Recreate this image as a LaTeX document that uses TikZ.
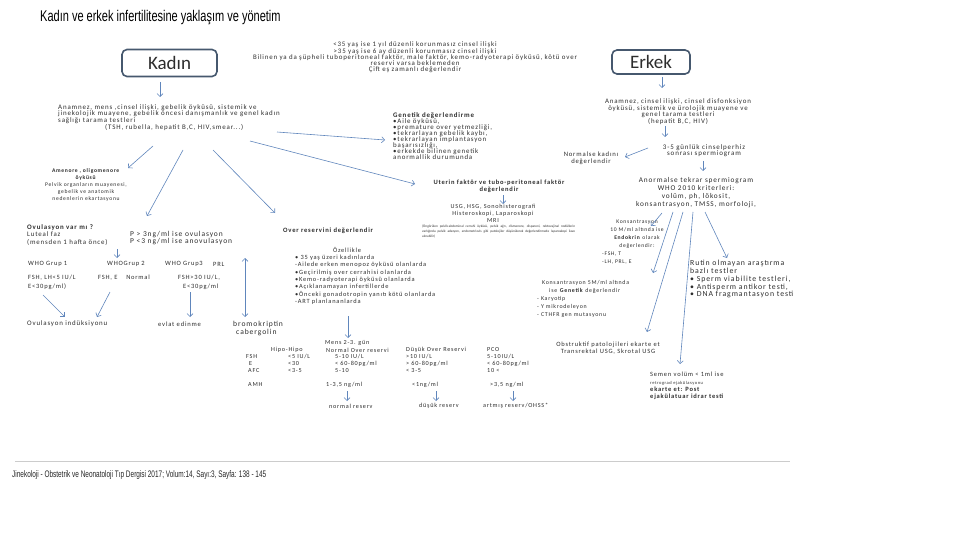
\documentclass[tikz,border=0pt]{standalone}
\usepackage{fontspec}
\setmainfont{Carlito}[LetterSpace=12]
\newfontfamily\boxfont{Carlito}
\newfontfamily\narrowfont{Liberation Sans}[FakeStretch=0.71]
\newfontfamily\footfont{Liberation Sans}[FakeStretch=0.68]
\usetikzlibrary{arrows.meta}

\definecolor{arrowblue}{RGB}{96,134,188}
\definecolor{boxline}{RGB}{70,88,110}
\definecolor{inkgray}{RGB}{45,45,45}

\newcommand{\fsz}[2]{\fontsize{#1}{#2}\selectfont}

\tikzset{
  txt/.style={inner sep=0pt, text=inkgray, font=\fsz{6.8}{7}},
  arr/.style={->, draw=arrowblue, line width=0.6pt},
  sexbox/.style={draw=boxline, line width=1.6pt, rounded corners=5pt, inner sep=0pt,
    text=inkgray, font=\boxfont\fsz{19}{19}},
}

\begin{document}
\begin{tikzpicture}[x=1pt, y=-1pt, >={Straight Barb[length=3pt,width=6pt]}]
    \useasboundingbox (0,0) rectangle (960,540);

    % Title
    \node[anchor=west, inner sep=0pt, font=\narrowfont\fsz{15.5}{15.5}] (title) at (40,18)
        {Kadın ve erkek infertilitesine yaklaşım ve yönetim};

    % Start boxes
    \node[sexbox, minimum width=95pt, minimum height=27pt] (kadin) at (169.5,63) {Kadın};
    \node[sexbox, minimum width=78pt, minimum height=24pt] (erkek) at (651,62) {Erkek};

    % When to evaluate
    \node[txt, align=center, anchor=north, font=\fsz{6.9}{6.1}] (when) at (415,42)
        {<35 yaş ise 1 yıl düzenli korunmasız cinsel ilişki\\
         >35 yaş ise 6 ay düzenli korunmasız cinsel ilişki\\
         Bilinen ya da şüpheli tuboperitoneal faktör, male faktör, kemo-radyoterapi öyküsü, kötü over\\
         reservi varsa beklemeden\\
         Çift eş zamanlı değerlendir};

    % ---------------- Kadın side ----------------
    \node[txt, align=left, anchor=north west, font=\fsz{6.95}{6.8}] (anamK) at (58,104)
        {Anamnez, mens ,cinsel ilişki, gebelik öyküsü, sistemik ve\\
         jinekolojik muayene, gebelik öncesi danışmanlık ve genel  kadın\\
         sağlığı tarama testleri\\
         \hspace*{47pt}(TSH, rubella, hepatit B,C, HIV,smear...)};

    \node[txt, align=center, anchor=north, font=\fsz{5.6}{7}] (amenore) at (86,168)
        {\textbf{Amenore , oligomenore}\\ \textbf{öyküsü}\\
         Pelvik organların muayenesi,\\ gebelik ve anatomik\\ nedenlerin ekartasyonu};

    \node[txt, align=left, anchor=north west, font=\fsz{6.9}{6.1}] (genetikK) at (393,112)
        {\textbf{Genetik değerlendirme}\\ •Aile öyküsü,\\ •premature over yetmezliği,\\
         •tekrarlayan gebelik kaybı,\\ •tekrarlayan implantasyon\\ başarısızlığı,\\
         •erkekde bilinen genetik\\ anormallik durumunda};

    \node[txt, align=center, anchor=north, font=\bfseries\fsz{6.5}{6.6}] (uterin) at (499,180)
        {Uterin faktör ve tubo-peritoneal faktör\\ değerlendir};
    \node[txt, align=center, anchor=north, font=\fsz{6.2}{7}] (usg) at (493,204)
        {USG, HSG, Sonohisterografi\\ Histeroskopi, Laparoskopi\\ MRI};
    \node[inner sep=0pt, text=inkgray, anchor=north west, font=\boxfont\fsz{3.4}{4.6}] (usgnote) at (422,225)
        {\parbox{153pt}{\spaceskip=0.3em plus 1em (Öngörülen pelvik-abdominal cerrahi öyküsü, pelvik ağrı, dismenore, dispareni, rektovajinal nodüllerin varlığında pelvik adezyon, endometriozis gibi patolojiler düşünülerek değerlendirmede laparoskopi ilave alınabilir)}};

    % Ovulation
    \node[txt, align=left, anchor=north west, font=\fsz{6.9}{7.5}] (ovul) at (27,224)
        {\textbf{Ovulasyon var mı ?}\\ Luteal faz\\ (mensden 1 hafta önce)};
    \node[txt, align=left, anchor=north west, font=\fsz{7.5}{7}] (prog) at (130,231)
        {P > 3ng/ml ise ovulasyon\\ P <3 ng/ml ise anovulasyon};

    \node[txt, anchor=west, font=\fsz{6.5}{7}] (who1) at (28,264) {WHO Grup 1};
    \node[txt, anchor=west, font=\fsz{6.5}{7}] (who2) at (107,264) {WHOGrup 2};
    \node[txt, anchor=west, font=\fsz{6.5}{7}] (who3) at (165,264) {WHO Grup3};
    \node[txt, anchor=west, font=\fsz{6.5}{7}] (prl) at (213,264) {PRL};

    \node[txt, align=left, anchor=north west, font=\fsz{6.5}{9}] (fsh1) at (28,275) {FSH, LH<5 IU/L\\ E<30pg/ml)};
    \node[txt, anchor=west, font=\fsz{6.5}{7}] (fsh2) at (98,278) {FSH, E \quad Normal};
    \node[txt, align=left, anchor=north west, font=\fsz{6.5}{9}] (fsh3) at (178,275) {FSH>30 IU/L,\\ \hspace*{5pt}E<30pg/ml};

    \node[txt, anchor=west, font=\fsz{6.9}{7}] (ovind) at (27,324) {Ovulasyon indüksiyonu};
    \node[txt, anchor=west, font=\fsz{6.6}{7}] (evlat) at (158,324) {evlat edinme};
    \node[txt, align=left, anchor=north west, font=\fsz{7.6}{8}] (bromo) at (233,321) {bromokriptin\\ \hspace*{3pt}cabergolin};

    % Ovarian reserve
    \node[txt, anchor=west, font=\bfseries\fsz{6.6}{7}] (overres) at (283,231) {Over  reservini değerlendir};
    \node[txt, anchor=center, font=\fsz{6.4}{7}] (ozellikle) at (347,250) {Özellikle};
    \node[txt, align=left, anchor=north west, font=\fsz{6.4}{7.3}] (overlist) at (295,255)
        {• 35 yaş üzeri kadınlarda\\ -Ailede erken menopoz öyküsü olanlarda\\
         •Geçirilmiş over cerrahisi olanlarda\\ •Kemo-radyoterapi öyküsü olanlarda\\
         •Açıklanamayan infertillerde\\ •Önceki gonadotropin yanıtı kötü olanlarda\\
         -ART planlananlarda};

    % Reserve table
    \tikzset{cell/.style={txt, anchor=west, font=\fsz{6.2}{7}}}
    \node[cell] (mens) at (325,343) {Mens  2-3. gün};
    \node[cell] (h1) at (271,350) {Hipo-Hipo};
    \node[cell] (h2) at (326,350) {Normal Over reservi};
    \node[cell] (h3) at (406,350) {Düşük Over  Reservi};
    \node[cell] (h4) at (487,350) {PCO};

    \node[cell] (rfsh) at (246,357) {FSH};
    \node[cell] (re) at (249,364) {E};
    \node[cell] (rafc) at (248,371) {AFC};
    \node[cell] (ramh) at (248,385) {AMH};

    \node[cell, align=left, anchor=north west] (c1) at (288,354) {<5 IU/L\\ <30\\ <3-5};
    \node[cell, align=left, anchor=north west] (c2) at (335,354) {5-10 IU/L\\ < 60-80pg/ml\\ 5-10};
    \node[cell, align=left, anchor=north west] (c3) at (406,354) {>10 IU/L\\ > 60-80pg/ml\\ < 3-5};
    \node[cell, align=left, anchor=north west] (c4) at (487,354) {5-10IU/L\\ < 60-80pg/ml\\ 10 <};

    \node[cell] (amh2) at (326,385) {1-3,5 ng/ml};
    \node[cell] (amh3) at (412,385) {<1ng/ml};
    \node[cell] (amh4) at (490,385) {>3,5 ng/ml};

    \node[cell] (res2) at (329,406) {normal  reserv};
    \node[cell] (res3) at (419,406) {düşük reserv};
    \node[cell] (res4) at (483,406) {artmış reserv/OHSS*};

    % ---------------- Erkek side ----------------
    \node[txt, align=center, anchor=north, font=\fsz{6.9}{6.4}] (anamE) at (678,99)
        {Anamnez, cinsel ilişki,  cinsel disfonksiyon\\ öyküsü, sistemik ve ürolojik muayene ve\\
         genel tarama testleri\\ (hepatit B,C, HIV)};
    \node[txt, align=center, anchor=north, font=\fsz{7}{6.5}] (perhiz) at (704,144) {3-5 günlük cinselperhiz\\ sonrası spermiogram};
    \node[txt, align=center, anchor=north, font=\fsz{6.7}{6.5}] (normalse) at (591,152) {Normalse kadını\\ değerlendir};
    \node[txt, align=center, anchor=north, font=\fsz{7.3}{8}] (anormal) at (696,177)
        {Anormalse  tekrar spermiogram\\ WHO 2010 kriterleri:\\ volüm, ph, lökosit,\\ konsantrasyon,  TMSS,  morfoloji,};

    \node[txt, align=center, anchor=north, font=\fsz{5.6}{8}] (endokrin) at (637,220)
        {Konsantrasyon\\ 10 M/ml  altında ise\\ \textbf{Endokrin} olarak\\ değerlendir:};
    \node[txt, align=left, anchor=north west, font=\fsz{5.6}{8}] (endolist) at (602,252) {-FSH, T\\ -LH, PRL, E};

    \node[txt, align=left, anchor=north west, font=\fsz{5.9}{8}] (genetikE) at (537,280)
        {\hspace*{5pt}Konsantrasyon 5M/ml altında\\ \hspace*{12pt}ise \textbf{Genetik} değerlendir\\
         - Karyotip\\ - Y mikrodeleyon\\ - CTHFR gen mutasyonu};

    \node[txt, align=center, anchor=north, font=\fsz{6.5}{7}] (obstr) at (608,342)
        {Obstruktif patolojileri ekarte et\\ Transrektal USG, Skrotal USG};

    \node[txt, align=left, anchor=north west, font=\fsz{6.5}{7.4}] (semen) at (650,372)
        {Semen volüm < 1ml ise\\ {\fsz{4.5}{5}retrograd ejakülasyonu}\\
         \textbf{ekarte et:  Post}\\ \textbf{ejakülatuar idrar testi}};

    \node[txt, align=left, anchor=north west, font=\fsz{7.8}{7.8}] (rutin) at (690,260)
        {Rutin olmayan araştırma\\ bazlı testler\\ • Sperm viabilite testleri,\\
         • Antisperm antikor testi,\\ • DNA fragmantasyon testi};

    % Arrow end points
    \coordinate (kA) at (160,82);   \coordinate (kB) at (160,97);
    \coordinate (k1) at (153,146);  \coordinate (k1e) at (128,168);
    \coordinate (k2) at (183,150);  \coordinate (k2e) at (147,216);
    \coordinate (k3) at (213,150);  \coordinate (k3e) at (275,213);
    \coordinate (k4) at (277,132);  \coordinate (k4e) at (385,140);
    \coordinate (k5) at (250,141);  \coordinate (k5e) at (415,184);
    \coordinate (u1) at (503,195);  \coordinate (u1e) at (503,204);
    \coordinate (o1) at (117,249);  \coordinate (o1e) at (117,258);
    \coordinate (w1) at (43,295);   \coordinate (w1e) at (65,317);
    \coordinate (w2) at (110,292);  \coordinate (w2e) at (97,317);
    \coordinate (w3) at (190,292);  \coordinate (w3e) at (190,317);
    \coordinate (p1) at (245,317);  \coordinate (p1e) at (245,258);
    \coordinate (r1) at (348,316);  \coordinate (r1e) at (348,338);
    \coordinate (m2) at (347,391);  \coordinate (m2e) at (347,401);
    \coordinate (m3) at (436,391);  \coordinate (m3e) at (436,401);
    \coordinate (m4) at (513,391);  \coordinate (m4e) at (513,401);

    \coordinate (eA) at (662,77);   \coordinate (eB) at (662,88);
    \coordinate (e1) at (665,126);  \coordinate (e1e) at (665,137);
    \coordinate (e2) at (648,148);  \coordinate (e2e) at (625,157);
    \coordinate (e3) at (703,161);  \coordinate (e3e) at (703,171);
    \coordinate (s1) at (662,213);  \coordinate (s1e) at (651,226);
    \coordinate (s2) at (673,212);  \coordinate (s2e) at (653,273);
    \coordinate (s3) at (683,212);  \coordinate (s3e) at (647,332);
    \coordinate (s4) at (693,212);  \coordinate (s4e) at (680,364);
    \coordinate (s5) at (705,212);  \coordinate (s5e) at (727,258);

    % Kadın arrows
    \draw[arr] (kA) -- (kB);
    \draw[arr] (k1) -- (k1e);
    \draw[arr] (k2) -- (k2e);
    \draw[arr] (k3) -- (k3e);
    \draw[arr] (k4) -- (k4e);
    \draw[arr] (k5) -- (k5e);
    \draw[arr] (u1) -- (u1e);
    \draw[arr] (o1) -- (o1e);
    \draw[arr] (w1) -- (w1e);
    \draw[arr] (w2) -- (w2e);
    \draw[arr] (w3) -- (w3e);
    \draw[arr, <->] (p1) -- (p1e);
    \draw[arr] (r1) -- (r1e);
    \draw[arr] (m2) -- (m2e);
    \draw[arr] (m3) -- (m3e);
    \draw[arr] (m4) -- (m4e);

    % Erkek arrows
    \draw[arr] (eA) -- (eB);
    \draw[arr] (e1) -- (e1e);
    \draw[arr] (e2) -- (e2e);
    \draw[arr] (e3) -- (e3e);
    \draw[arr] (s1) -- (s1e);
    \draw[arr] (s2) -- (s2e);
    \draw[arr] (s3) -- (s3e);
    \draw[arr] (s4) -- (s4e);
    \draw[arr] (s5) -- (s5e);

    % Footer
    \coordinate (ruleL) at (15,461);  \coordinate (ruleR) at (790,461);
    \draw[gray!40, line width=0.7pt] (ruleL) -- (ruleR);
    \node[anchor=west, inner sep=0pt, text=black!85, font=\footfont\fsz{9.5}{9.5}] (footer) at (12,475)
        {Jinekoloji - Obstetrik ve Neonatoloji Tıp Dergisi 2017; Volum:14, Sayı:3, Sayfa: 138 - 145};
\end{tikzpicture}
\end{document}
